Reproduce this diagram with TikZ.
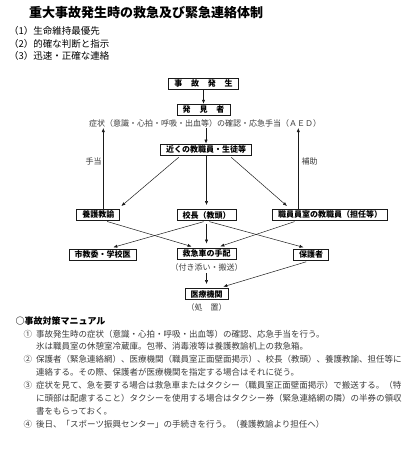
\documentclass[tikz,border=0pt]{standalone}
\usepackage{fontspec}
\setmainfont{Noto Sans CJK JP}
\usetikzlibrary{arrows.meta,positioning}
\definecolor{inkblack}{HTML}{1A1A1A}
\definecolor{inkgray}{HTML}{3A3A3A}
\tikzset{
  flowbox/.style={
    rectangle, draw=inkblack, line width=0.7pt,
    fill=white, inner xsep=5.5pt, inner ysep=0pt,
    minimum height=11pt, font=\fontsize{8}{8}\selectfont\bfseries
  },
  flowarrow/.style={-{Latex[length=4pt,width=3.2pt]}, line width=0.5pt, color=inkblack},
  flownote/.style={inner sep=0pt, font=\fontsize{8}{8}\selectfont, text=inkgray},
  listline/.style={anchor=west, inner sep=0pt, font=\fontsize{8.5}{8.5}\selectfont, text=inkgray},
  goalline/.style={anchor=west, inner sep=0pt, font=\fontsize{9.5}{9.5}\selectfont},
}

\begin{document}
\begin{tikzpicture}[x=1pt, y=-1pt]
  \useasboundingbox (0,0) rectangle (420,450);

  % title and goals
  \node[anchor=west, inner sep=0pt, font=\fontsize{13}{13}\selectfont\bfseries] (title) at (29,12.7) {重大事故発生時の救急及び緊急連絡体制};
  \node[goalline] (goal1) at (9,31) {（1）生命維持最優先};
  \node[goalline] (goal2) at (9,43.5) {（2）的確な判断と指示};
  \node[goalline] (goal3) at (9,56) {（3）迅速・正確な連絡};

  % flow
  \node[flowbox, minimum width=70pt] (accident) at (203.5,83.8) {事\hspace{1.1em}故\hspace{1.1em}発\hspace{1.1em}生};
  \node[flowbox, minimum width=53pt] (finder) at (203.5,109.7) {発\hspace{1.1em}見\hspace{1.1em}者};
  \node[flownote] (symptoms) at (205,123) {症状（意識・心拍・呼吸・出血等）の確認・応急手当（ＡＥＤ）};
  \node[flowbox] (nearby) at (206,149.5) {近くの教職員・生徒等};

  \node[flowbox] (yogo) at (98.3,214.5) {養護教諭};
  \node[flowbox] (principal) at (206.5,215) {校長（教頭）};
  \node[flowbox] (staff) at (330,214.5) {職員員室の教職員（担任等）};

  \node[flowbox] (city) at (102.5,254.5) {市教委・学校医};
  \node[flowbox] (ambulance) at (206.5,253.5) {救急車の手配};
  \node[flowbox] (guardian) at (311,254.5) {保護者};
  \node[flownote, below=4pt of ambulance] (escort) {（付き添い・搬送）};
  \node[flowbox] (hospital) at (206.5,294) {医療機関};
  \node[flownote, below=3.5pt of hospital] (treatment) {（処\hspace{1em}置）};

  \draw[flowarrow] (accident) -- (finder);
  \draw[flowarrow, shorten <=1pt] (symptoms.south -| nearby) -- (nearby);
  \draw[flowarrow, shorten <=3pt, shorten >=4pt] ([xshift=-25pt]nearby.south) -- ([xshift=20pt]yogo.north);
  \draw[flowarrow, shorten <=1pt, shorten >=4pt] (nearby.south -| principal) -- (principal.north);
  \draw[flowarrow, shorten <=3pt, shorten >=4pt] ([xshift=23pt]nearby.south) -- ([xshift=-40pt]staff.north);

  \draw[flowarrow, shorten >=1pt] ([xshift=5pt]yogo.north) -- ([xshift=5pt]yogo.north |- symptoms.south)
    node[flownote, left=1.5pt, pos=0.58] (aidlabel) {手当};
  \draw[flowarrow, shorten >=1pt] ([xshift=-31.7pt]staff.north) -- ([xshift=-31.7pt]staff.north |- symptoms.south)
    node[flownote, right=3pt, pos=0.58] (helplabel) {補助};

  \draw[flowarrow, shorten <=4pt, shorten >=4pt] ([xshift=5pt]yogo.south) -- ([xshift=-11pt]ambulance.north);
  \draw[flowarrow, shorten <=3pt, shorten >=5pt] (principal.south) -- ([xshift=6pt]city.north);
  \draw[flowarrow, shorten <=3pt, shorten >=4pt] (principal.south) -- (ambulance.north);
  \draw[flowarrow, shorten <=3pt, shorten >=5pt] (principal.south) -- ([xshift=-2.7pt]guardian.north);
  \draw[flowarrow, shorten <=4pt, shorten >=4pt] ([xshift=-31.7pt]staff.south) -- ([xshift=10pt]ambulance.north);
  \draw[flowarrow, shorten <=5pt, shorten >=5pt] (guardian.south) -- ([xshift=12pt]hospital.north);
  \draw[flowarrow, shorten <=2pt, shorten >=4pt] (escort.south -| hospital) -- (hospital.north);

  % manual
  \node[anchor=west, inner sep=0pt, font=\fontsize{9}{9}\selectfont\bfseries] (manual) at (15.5,321) {○事故対策マニュアル};
  \node[listline] (mark1) at (23.5,334) {①};
  \node[listline] (line1a) at (36,334) {事故発生時の症状（意識・心拍・呼吸・出血等）の確認、応急手当を行う。};
  \node[listline] (line1b) at (36,346.7) {氷は職員室の休憩室冷蔵庫。包帯、消毒液等は養護教諭机上の救急箱。};
  \node[listline] (mark2) at (23.5,359.3) {②};
  \node[listline] (line2a) at (36,359.3) {保護者（緊急連絡網）、医療機関（職員室正面壁面掲示）、校長（教頭）、養護教諭、担任等に};
  \node[listline] (line2b) at (36,372) {連絡する。その際、保護者が医療機関を指定する場合はそれに従う。};
  \node[listline] (mark3) at (23.5,385) {③};
  \node[listline] (line3a) at (36,385) {症状を見て、急を要する場合は救急車またはタクシー（職員室正面壁面掲示）で搬送する。（特};
  \node[listline] (line3b) at (36,398) {に頭部は配慮すること）タクシーを使用する場合はタクシー券（緊急連絡網の隣）の半券の領収};
  \node[listline] (line3c) at (36,411) {書をもらっておく。};
  \node[listline] (mark4) at (23.5,424) {④};
  \node[listline] (line4a) at (36,424) {後日、「スポーツ振興センター」の手続きを行う。（養護教諭より担任へ）};
\end{tikzpicture}
\end{document}
